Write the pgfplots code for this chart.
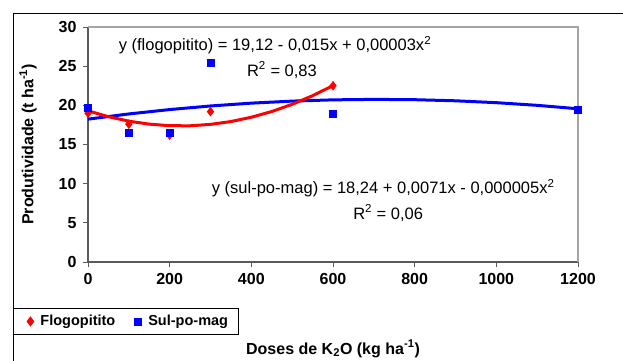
\documentclass[border=0pt]{standalone}
\usepackage{pgfplots}
\pgfplotsset{compat=1.18}
\usepackage{fontspec}
\setmainfont{Liberation Sans}
\definecolor{xred}{RGB}{255,0,0}
\definecolor{xblue}{RGB}{0,0,255}
\definecolor{axgray}{RGB}{90,90,90}
\definecolor{bordergray}{RGB}{165,165,165}
\pgfplotsset{myleg/.style={legend image code/.code={\path[draw=none,fill=none] (0pt,0pt) rectangle (17pt,0.1pt);\draw[##1] plot coordinates {(9pt,0pt)};}}}
\begin{document}
\begin{tikzpicture}[x=1pt,y=1pt]
\useasboundingbox (0,0) rectangle (623,360);
\draw[black, line width=1pt] (13,347) -- (640,347);
\draw[black, line width=1pt] (13,347) -- (13,-20);
\begin{axis}[
  at={(88pt,98pt)}, anchor=south west,
  scale only axis, width=490pt, height=235pt,
  xmin=0, xmax=1200, ymin=0, ymax=30,
  xtick={0,200,...,1200}, ytick={0,5,...,30},
  axis x line*=bottom, axis y line*=left,
  axis line style={-, draw=axgray, line width=1.2pt},
  tick style={draw=axgray, line width=1pt},
  tick align=outside, major tick length=5pt,
  /pgf/number format/assume math mode=true,
  /pgf/number format/1000 sep={},
  ticklabel style={font=\bfseries\fontsize{16}{16}\selectfont},
  xticklabel style={yshift=-3pt},
  yticklabel style={xshift=-3pt},
  xlabel={Doses de K\textsubscript{2}O (kg ha\textsuperscript{-1})},
  xlabel style={font=\bfseries\fontsize{16}{16}\selectfont, at={(axis description cs:0.5,-0.37)}, anchor=center},
  ylabel={Produtividade (t ha\textsuperscript{-1})},
  ylabel style={font=\bfseries\fontsize{16}{16}\selectfont, at={(axis description cs:-0.1224,0.5)}, anchor=center, rotate=0},
  legend style={font=\bfseries\fontsize{14.5}{16}\selectfont, draw=black, line width=0.8pt,
    at={(-0.153,-0.196)}, anchor=north west, legend columns=2,
    inner xsep=8pt, inner ysep=5pt,
    /tikz/every even column/.append style={column sep=12pt}},
  legend cell align=left,
  clip=false,
]
\draw[bordergray, line width=1.5pt] (rel axis cs:0,1) -- (rel axis cs:1,1) -- (rel axis cs:1,0);
% trend lines
\addplot[xblue, line width=3pt, forget plot] coordinates {
 (0,18.24) (100,18.90) (200,19.46) (300,19.92) (400,20.28) (500,20.54) (600,20.70)
 (700,20.76) (800,20.72) (900,20.58) (1000,20.34) (1100,20.00) (1200,19.56)};
\addplot[xred, line width=3pt, forget plot] coordinates {
 (0,19.30) (50,18.55) (100,17.98) (150,17.60) (200,17.40) (250,17.39) (300,17.57)
 (350,17.93) (400,18.48) (450,19.21) (500,20.13) (550,21.23) (600,22.52)};
% data
\addplot[only marks, mark=diamond*, mark size=4.5pt, color=xred, myleg] coordinates {
 (0,19.0) (100,17.6) (200,16.2) (300,19.2) (600,22.5)};
\addlegendentry{Flogopitito}
\addplot[only marks, mark=square*, mark size=3.5pt, color=xblue, myleg] coordinates {
 (0,19.75) (100,16.5) (200,16.5) (300,25.5) (600,18.9) (1200,19.5)};
\addlegendentry{Sul-po-mag}
\node[anchor=west, font=\fontsize{16.5}{18}\selectfont, inner sep=0pt] at (axis cs:75,27.7)
  {y (flogopitito) = 19,12 - 0,015x + 0,00003x\textsuperscript{2}};
\node[anchor=center, font=\fontsize{16.5}{18}\selectfont, inner sep=0pt] at (axis cs:475,24.5)
  {R\textsuperscript{2} = 0,83};
\node[anchor=west, font=\fontsize{16.5}{18}\selectfont, inner sep=0pt] at (axis cs:303,9.45)
  {y (sul-po-mag) = 18,24 + 0,0071x - 0,000005x\textsuperscript{2}};
\node[anchor=center, font=\fontsize{16.5}{18}\selectfont, inner sep=0pt] at (axis cs:735,6.26)
  {R\textsuperscript{2} = 0,06};
\end{axis}
\end{tikzpicture}
\end{document}
